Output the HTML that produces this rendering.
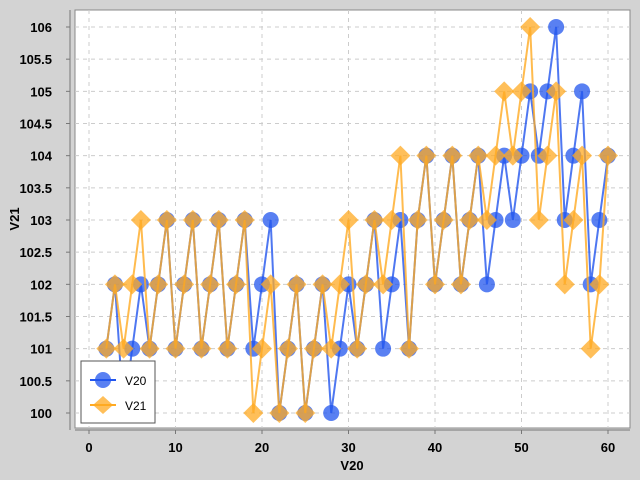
<!DOCTYPE html>
<html><head><meta charset="utf-8"><style>
body{margin:0;background:#d3d3d3;}
svg{display:block;font-family:"Liberation Sans","DejaVu Sans",sans-serif;}
</style></head><body>
<svg id="chart" width="640" height="480" viewBox="0 0 640 480">
<rect x="0" y="0" width="640" height="480" fill="#d3d3d3"/>
<rect x="75" y="10" width="555" height="418" fill="#ffffff" stroke="#888" stroke-width="1"/>
<g id="grid"></g>
<g id="axes">
<line x1="70" y1="10" x2="70" y2="430" stroke="#777"/>
<line x1="75" y1="430" x2="630" y2="430" stroke="#777"/>
</g>
<g id="series"></g>
<text x="352" y="470" text-anchor="middle" font-weight="bold" font-size="13">V20</text>
<text x="19" y="219" text-anchor="middle" font-weight="bold" font-size="13" transform="rotate(-90 19 219)">V21</text>
<g>
<rect x="81" y="361" width="74" height="62" fill="#fff" stroke="#555"/>
<g>
<line x1="90" y1="380" x2="116" y2="380" stroke="#2255ee" stroke-width="2"/>
<circle cx="103" cy="380" r="8" fill="#2255ee" fill-opacity="0.75"/>
<text x="125" y="385" font-size="12">V20</text></g>
<g>
<line x1="90" y1="405" x2="116" y2="405" stroke="#ffaa22" stroke-width="2"/>
<polygon points="103,396 113,405 103,414 93,405" fill="#ffaa22" fill-opacity="0.75"/>
<text x="125" y="410" font-size="12">V21</text></g>
</g>
</svg>
<script>
const xValues=[2,3,4,5,6,7,8,9,10,11,12,13,14,15,16,17,18,19,20,21,22,23,24,25,26,27,28,29,30,31,32,33,34,35,36,37,38,39,40,41,42,43,44,45,46,47,48,49,50,51,52,53,54,55,56,57,58,59,60];
const v20=[101,102,100,101,102,101,102,103,101,102,103,101,102,103,101,102,103,101,102,103,100,101,102,100,101,102,100,101,102,101,102,103,101,102,103,101,103,104,102,103,104,102,103,104,102,103,104,103,104,105,104,105,106,103,104,105,102,103,104];
const v21=[101,102,101,102,103,101,102,103,101,102,103,101,102,103,101,102,103,100,101,102,100,101,102,100,101,102,101,102,103,101,102,103,102,103,104,101,103,104,102,103,104,102,103,104,103,104,105,104,105,106,103,104,105,102,103,104,101,102,104];
const xTicks=[0,10,20,30,40,50,60];
const yTicks=[100,100.5,101,101.5,102,102.5,103,103.5,104,104.5,105,105.5,106];
const NS="http://www.w3.org/2000/svg";
const xs=v=>89+v*(608-89)/60;
const ys=v=>413-(v-100)*(413-27)/6;
function mk(t,a,p){const e=document.createElementNS(NS,t);for(const k in a)e.setAttribute(k,a[k]);p.appendChild(e);return e;}
const grid=document.getElementById('grid'),axes=document.getElementById('axes'),ser=document.getElementById('series');
xTicks.forEach(t=>{
 const g=mk('line',{x1:xs(t),x2:xs(t),y1:10,y2:428,stroke:'#ccc','stroke-dasharray':'4,4'},grid);
 
 
 mk('line',{x1:xs(t),x2:xs(t),y1:430,y2:434,stroke:'#777'},axes);
 const l=mk('text',{x:xs(t),y:452,'text-anchor':'middle','font-size':'13','font-weight':'bold'},axes);
 l.textContent=t;
 
 
});
yTicks.forEach(t=>{
 const g=mk('line',{x1:75,x2:630,y1:ys(t),y2:ys(t),stroke:'#ccc','stroke-dasharray':'4,4'},grid);
 
 
 mk('line',{x1:66,x2:70,y1:ys(t),y2:ys(t),stroke:'#777'},axes);
 const l=mk('text',{x:52,y:ys(t)+5,'text-anchor':'end','font-size':'13','font-weight':'bold'},axes);
 l.textContent=t;
 
 
});
function drawSeries(vals,color,shape,name){
 const g=mk('g',{},ser);
 
 
 const pts=xValues.map((x,i)=>xs(x)+','+ys(vals[i])).join(' ');
 const pl=mk('polyline',{points:pts,fill:'none',stroke:color,'stroke-width':2,'stroke-opacity':0.8},g);
 
 
 xValues.forEach((x,i)=>{
  const cx=xs(x),cy=ys(vals[i]);
  let m;
  if(shape==='circle') m=mk('circle',{cx:cx,cy:cy,r:8,fill:color,'fill-opacity':0.75},g);
  else m=mk('polygon',{points:`${cx},${cy-10} ${cx+10},${cy} ${cx},${cy+10} ${cx-10},${cy}`,fill:color,'fill-opacity':0.75},g);
  
  
 });
}
drawSeries(v20,'#2255ee','circle','series-v20');
drawSeries(v21,'#ffaa22','diamond','series-v21');
</script>
</body></html>
